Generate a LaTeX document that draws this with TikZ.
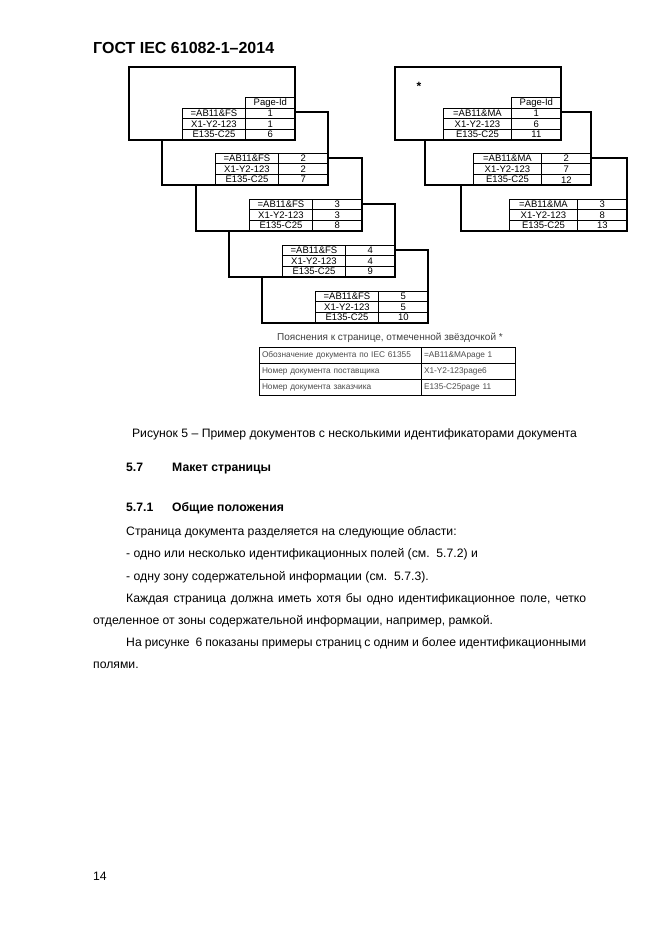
\documentclass[tikz,border=0pt]{standalone}
\usepackage{fontspec}
\setmainfont{Liberation Sans}
\usepackage{tikz}
\usetikzlibrary{positioning}
\tikzset{
  docpage/.style={
    rectangle, draw, fill=white, line width=1.1pt,
    anchor=north west, minimum width=166pt, minimum height=73pt,
    inner sep=0pt, outer sep=0pt
  },
  idcell/.style={
    rectangle, draw, line width=1.3pt,
    minimum width=#1, minimum height=10.6pt,
    inner sep=0pt, outer sep=0pt,
    font=\fontsize{9.5}{9.5}\selectfont
  },
  idcell/.default=63.5pt,
  numcell/.style={idcell=49.3pt},
  notecell/.style={
    rectangle, draw, line width=0.8pt, text=black!70,
    text width=#1, minimum height=16pt, align=left,
    inner xsep=3pt, inner ysep=0pt, outer sep=0pt,
    font=\fontsize{8.3}{9}\selectfont
  },
  notecell/.default=156pt,
  bodytext/.style={
    anchor=base west, inner sep=0pt,
    font=\fontsize{12.2}{14}\selectfont
  },
  headtext/.style={bodytext, font=\fontsize{12.2}{14}\selectfont\bfseries},
}
\begin{document}
\begin{tikzpicture}[x=1pt,y=-1pt]
\fill[white] (0,0) rectangle (661,935);
\useasboundingbox (0,0) rectangle (661,935);

\node[bodytext, font=\fontsize{16}{18}\selectfont\bfseries] (gost) at (93,53) {ГОСТ IEC 61082-1–2014};

% left chain, drawn from the back page to the front one
\foreach \i/\px/\py/\nb/\nc in {5/262/250/5/10, 4/229/204/4/9, 3/196/158/3/8, 2/162/112/2/7, 1/129/67/1/6}{
  \node[docpage] (L\i) at (\px,\py) {};
  \node[numcell, anchor=south east] (L\i-c) at (L\i.south east) {\nc};
  \node[numcell, above=0pt of L\i-c] (L\i-b) {\nb};
  \node[numcell, above=0pt of L\i-b] (L\i-a) {\i};
  \node[idcell, left=0pt of L\i-a] (L\i-ida) {=AB11\&FS};
  \node[idcell, left=0pt of L\i-b] (L\i-idb) {X1-Y2-123};
  \node[idcell, left=0pt of L\i-c] (L\i-idc) {E135-C25};
}
\node[numcell, above=0pt of L1-a] (L1-head) {Page-Id};

% right chain
\foreach \i/\px/\py/\nb/\nc in {3/461/158/8/13, 2/425/112/7/12, 1/395/67/6/11}{
  \node[docpage] (R\i) at (\px,\py) {};
  \node[numcell, anchor=south east] (R\i-c) at (R\i.south east) {\nc};
  \node[numcell, above=0pt of R\i-c] (R\i-b) {\nb};
  \node[numcell, above=0pt of R\i-b] (R\i-a) {\i};
  \node[idcell=68.5pt, left=0pt of R\i-a] (R\i-ida) {=AB11\&MA};
  \node[idcell=68.5pt, left=0pt of R\i-b] (R\i-idb) {X1-Y2-123};
  \node[idcell=68.5pt, left=0pt of R\i-c] (R\i-idc) {E135-C25};
}
\node[numcell, above=0pt of R1-a] (R1-head) {Page-Id};
\node[inner sep=0pt, font=\fontsize{12}{12}\selectfont\bfseries] (star) at (419,86) {*};

% notes on the starred page
\node[inner sep=0pt, anchor=base, text=black!75, font=\fontsize{10}{12}\selectfont] (notetitle) at (390,340) {Пояснения к странице, отмеченной звёздочкой *};
\node[notecell, anchor=north west] (n1l) at (259,347) {Обозначение документа по IEC 61355};
\node[notecell, below=0pt of n1l] (n2l) {Номер документа поставщика};
\node[notecell, below=0pt of n2l] (n3l) {Номер документа заказчика};
\node[notecell=88pt, right=0pt of n1l] (n1r) {=AB11\&MApage 1};
\node[notecell=88pt, right=0pt of n2l] (n2r) {X1-Y2-123page6};
\node[notecell=88pt, right=0pt of n3l] (n3r) {E135-C25page 11};

\node[bodytext, anchor=base] (caption) at (354.5,437) {Рисунок 5 – Пример документов с несколькими идентификаторами документа};

\node[headtext] (sec57) at (126,471) {5.7};
\node[headtext] (sec57t) at (172,471) {Макет страницы};
\node[headtext] (sec571) at (126,511) {5.7.1};
\node[headtext] (sec571t) at (172,511) {Общие положения};

\node[bodytext] (line1) at (126,535) {Страница документа разделяется на следующие области:};
\node[bodytext] (line2) at (126,557) {- одно или несколько идентификационных полей (см.\ \ 5.7.2) и};
\node[bodytext] (line3) at (126,580) {- одну зону содержательной информации (см.\ \ 5.7.3).};
\node[bodytext] (line4) at (126,602) {\makebox[460pt][s]{Каждая страница должна иметь хотя бы одно идентификационное поле, четко}};
\node[bodytext] (line5) at (93,624) {отделенное от зоны содержательной информации, например, рамкой.};
\node[bodytext] (line6) at (126,646) {\makebox[460pt][s]{На рисунке\ \ 6 показаны примеры страниц с одним и более идентификационными}};
\node[bodytext] (line7) at (93,668) {полями.};

\node[bodytext] (pageno) at (93,880) {14};
\end{tikzpicture}
\end{document}
